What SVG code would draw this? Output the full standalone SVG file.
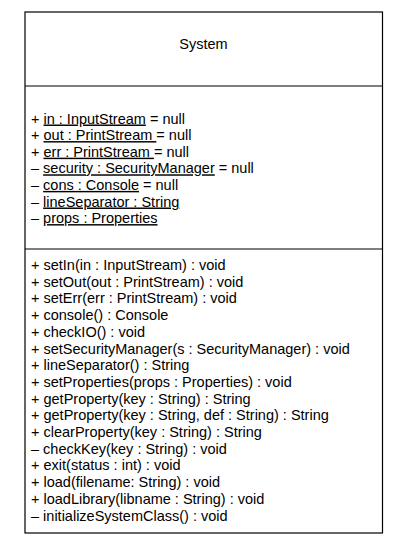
<svg xmlns="http://www.w3.org/2000/svg" width="407" height="548" viewBox="0 0 407 548">
<style>
text{font-family:"Liberation Sans",Arial,sans-serif;font-size:14.5px;fill:#000}
.u{text-decoration:underline}
.box{fill:#fff;stroke:#000;stroke-width:1.2}
.div{stroke:#000;stroke-width:1.2}
</style>
<rect width="407" height="548" fill="#fff"/>
<g id="node-System">
<rect class="box" x="25" y="12" width="357.5" height="521"/>
<line class="div" x1="25" y1="86" x2="382.5" y2="86"/>
<line class="div" x1="25" y1="249" x2="382.5" y2="249"/>
<text x="203.5" y="48.5" text-anchor="middle">System</text>
<g id="attributes" xml:space="preserve">
<text x="31" y="123.5">+ <tspan class="u">in : InputStream</tspan> = null</text>
<text x="31" y="140.1">+ <tspan class="u">out : PrintStream </tspan>= null</text>
<text x="31" y="156.7">+ <tspan class="u">err : PrintStream </tspan>= null</text>
<text x="31" y="173.3">– <tspan class="u">security : SecurityManager</tspan> = null</text>
<text x="31" y="189.9">– <tspan class="u">cons : Console</tspan> = null</text>
<text x="31" y="206.5">– <tspan class="u">lineSeparator : String</tspan></text>
<text x="31" y="223.1">– <tspan class="u">props : Properties</tspan></text>
</g>
<g id="methods">
<text x="31" y="270">+ setIn(in : InputStream) : void</text>
<text x="31" y="286.7">+ setOut(out : PrintStream) : void</text>
<text x="31" y="303.4">+ setErr(err : PrintStream) : void</text>
<text x="31" y="320.1">+ console() : Console</text>
<text x="31" y="336.8">+ checkIO() : void</text>
<text x="31" y="353.5">+ setSecurityManager(s : SecurityManager) : void</text>
<text x="31" y="370.2">+ lineSeparator() : String</text>
<text x="31" y="386.9">+ setProperties(props : Properties) : void</text>
<text x="31" y="403.6">+ getProperty(key : String) : String</text>
<text x="31" y="420.3">+ getProperty(key : String, def : String) : String</text>
<text x="31" y="437">+ clearProperty(key : String) : String</text>
<text x="31" y="453.7">– checkKey(key : String) : void</text>
<text x="31" y="470.4">+ exit(status : int) : void</text>
<text x="31" y="487.1">+ load(filename: String) : void</text>
<text x="31" y="503.8">+ loadLibrary(libname : String) : void</text>
<text x="31" y="520.5">– initializeSystemClass() : void</text>
</g>
</g>
<g id="connectors"/>
</svg>
